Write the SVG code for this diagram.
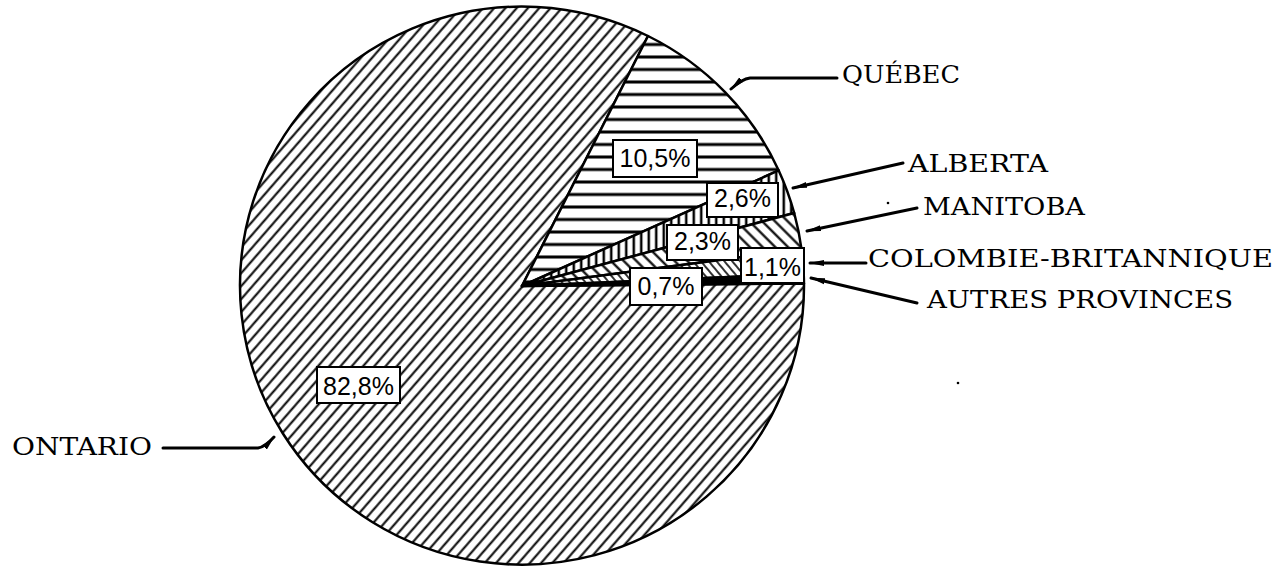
<svg xmlns="http://www.w3.org/2000/svg" width="1285" height="568" viewBox="0 0 1285 568">
<style>
.bound{stroke:#000;stroke-width:2.5;stroke-linejoin:round}
.box{fill:#fff;stroke:#000;stroke-width:2}
.pct{font-family:"Liberation Sans",Arial,sans-serif;font-size:25px;fill:#000;text-anchor:middle}
.lbl{font-family:"DejaVu Serif","Liberation Serif",serif;font-size:25px;fill:#000}
.lead{fill:none;stroke:#000;stroke-width:3;stroke-linecap:round;marker-end:url(#tip)}
</style>
<defs>
<pattern id="pOnt" patternUnits="userSpaceOnUse" width="8.5" height="8.5" patternTransform="rotate(41)">
<rect width="8.5" height="8.5" fill="#fff"/><line x1="4.25" y1="0" x2="4.25" y2="8.5" stroke="#000" stroke-width="2"/>
</pattern>
<pattern id="pQue" patternUnits="userSpaceOnUse" width="12.5" height="12.5" patternTransform="translate(0,7)">
<rect width="12.5" height="12.5" fill="#fff"/><line x1="0" y1="0" x2="12.5" y2="0" stroke="#000" stroke-width="3"/>
<line x1="0" y1="12.5" x2="12.5" y2="12.5" stroke="#000" stroke-width="3"/>
</pattern>
<pattern id="pAlb" patternUnits="userSpaceOnUse" width="7.5" height="7.5">
<rect width="7.5" height="7.5" fill="#fff"/><line x1="3.75" y1="0" x2="3.75" y2="7.5" stroke="#000" stroke-width="2.5"/>
</pattern>
<pattern id="pMan" patternUnits="userSpaceOnUse" width="9" height="9" patternTransform="rotate(-45)">
<rect width="9" height="9" fill="#fff"/><line x1="4.5" y1="0" x2="4.5" y2="9" stroke="#000" stroke-width="2.2"/>
</pattern>
<pattern id="pCB" patternUnits="userSpaceOnUse" width="6" height="6" patternTransform="rotate(-40)">
<rect width="6" height="6" fill="#fff"/><line x1="3" y1="0" x2="3" y2="6" stroke="#000" stroke-width="1.6"/>
</pattern>
<marker id="tip" markerUnits="userSpaceOnUse" markerWidth="16" markerHeight="10" refX="14" refY="5" orient="auto">
<path d="M0,2 L15,5 L0,8 Z" fill="#000"/>
</marker>
</defs>
<rect width="1285" height="568" fill="#fff"/>

<g id="ontario">
<path d="M522,286 L804,283.5 A282,279 0 1 1 648,36 Z" fill="url(#pOnt)" class="bound"/>
</g>
<g id="quebec">
<path d="M522,286 L648,36 A282,279 0 0 1 778.7,170.4 Z" fill="url(#pQue)" class="bound"/>
</g>
<g id="alberta">
<path d="M522,286 L778.7,170.4 A282,279 0 0 1 794.2,213 Z" fill="url(#pAlb)" class="bound"/>
</g>
<g id="manitoba">
<path d="M522,286 L794.2,213 A282,279 0 0 1 801.5,249.2 Z" fill="url(#pMan)" class="bound"/>
</g>
<g id="colombie-britannique">
<path d="M522,286 L801.5,249.2 A282,279 0 0 1 803.7,273.7 Z" fill="url(#pCB)" class="bound"/>
</g>
<g id="autres">
<path d="M522,286 L803.7,273.7 A282,279 0 0 1 804,283.5 Z" fill="#000" class="bound"/>
</g>

<g id="pct-labels">
<g id="pct-quebec"><rect class="box" x="613" y="140" width="84" height="37"/><text class="pct" x="655" y="167">10,5%</text></g>
<g id="pct-alberta"><rect class="box" x="707" y="183" width="71" height="34"/><text class="pct" x="742.5" y="207">2,6%</text></g>
<g id="pct-manitoba"><rect class="box" x="667" y="225" width="71" height="35"/><text class="pct" x="702.5" y="250">2,3%</text></g>
<g id="pct-cb"><rect class="box" x="741" y="248" width="63" height="35"/><text class="pct" x="772.5" y="276">1,1%</text></g>
<g id="pct-autres"><rect class="box" x="630" y="268" width="72" height="37"/><text class="pct" x="666" y="295">0,7%</text></g>
<g id="pct-ontario"><rect class="box" x="317" y="367" width="83" height="36"/><text class="pct" x="358.5" y="395">82,8%</text></g>
</g>

<g id="connectors">
<path class="lead" d="M837,78 L750,78 Q742,79 731,89"/>
<path class="lead" d="M903,163 L793,188"/>
<path class="lead" d="M917,208 L807,231"/>
<path class="lead" d="M866,263 L810,263"/>
<path class="lead" d="M917,303 L811,278"/>
<path class="lead" d="M163,448 L258,448 Q265,447 274,437"/>
</g>

<g id="labels">
<text class="lbl" x="842" y="83" textLength="118" lengthAdjust="spacingAndGlyphs">QUÉBEC</text>
<text class="lbl" x="908" y="172" textLength="140" lengthAdjust="spacingAndGlyphs">ALBERTA</text>
<text class="lbl" x="923" y="215" textLength="162" lengthAdjust="spacingAndGlyphs">MANITOBA</text>
<text class="lbl" x="868" y="267" textLength="405" lengthAdjust="spacingAndGlyphs">COLOMBIE-BRITANNIQUE</text>
<text class="lbl" x="927" y="308" textLength="306" lengthAdjust="spacingAndGlyphs">AUTRES PROVINCES</text>
<text class="lbl" x="12" y="455" textLength="140" lengthAdjust="spacingAndGlyphs">ONTARIO</text>
</g>

<circle cx="888" cy="203" r="1.3" fill="#000"/>
<circle cx="958" cy="383" r="1.3" fill="#000"/>
</svg>
